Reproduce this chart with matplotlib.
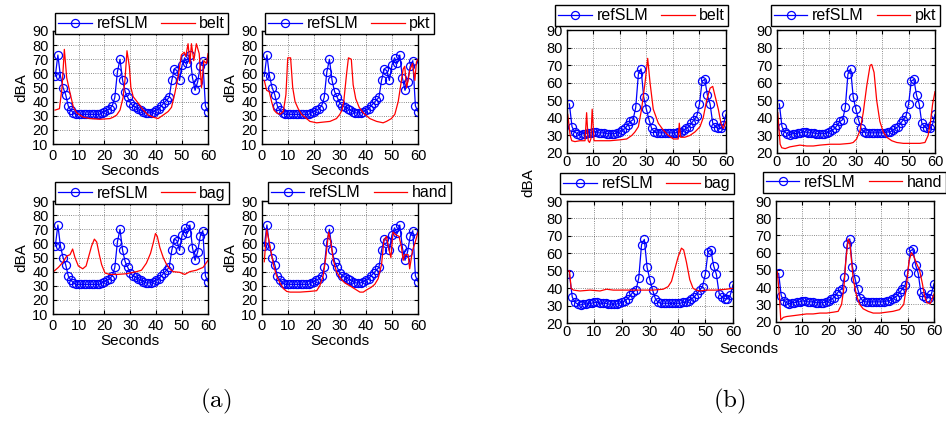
import numpy as np
import matplotlib
matplotlib.use('Agg')
import matplotlib.pyplot as plt

plt.rcParams['font.family'] = ['Liberation Sans', 'DejaVu Sans']
plt.rcParams['mathtext.fontset'] = 'cm'

sec = np.arange(1, 61)

# reference sound level meter, session (a) and (b)
ref_a = [58, 73, 58, 50, 45, 37, 34, 32, 31, 31, 31, 31, 31, 31, 31, 31, 31, 31,
         32, 33, 34, 35, 37, 43, 61, 70, 55, 47, 43, 39, 37, 36, 35, 34, 33, 32,
         32, 32, 33, 34, 35, 37, 39, 41, 43, 55, 63, 62, 55, 66, 71, 67, 73, 57,
         48, 54, 65, 69, 37, 33]
ref_b = [48, 35, 32, 31, 30.5, 31, 31, 31.5, 31.5, 32, 32, 31.5, 31.5, 31.5, 31,
         31, 31, 31, 31.5, 32, 33, 34, 36, 38, 39, 46, 65, 68, 52, 45, 39, 34, 32,
         31.5, 31.5, 31.5, 31.5, 31.5, 31.5, 31.5, 31.5, 32, 32, 33, 34, 35, 37,
         39, 41, 48, 61, 62, 53, 48, 37, 35, 34, 34, 36, 42]

# phone positions (a)
belt_a_t = [0.9, 2.6, 3.6, 4.5, 5.4, 6.7, 8.0, 9.3, 11.8, 14.4, 18.3, 22.1, 23.4,
            24.7, 26.0, 27.2, 27.9, 28.7, 29.6, 30.2, 31.1, 33.0, 35.0, 36.9,
            38.8, 40.7, 42.7, 44.6, 45.9, 47.2, 48.5, 49.7, 50.8, 51.4, 52.3,
            53.0, 53.6, 54.5, 55.5, 56.6, 57.5, 58.4, 59.4, 60.0]
belt_a = [34, 35, 50, 77, 57, 46, 36, 32, 29, 28, 27.5, 28, 29, 30.5, 34, 43, 55,
          76, 65, 50, 43.5, 39, 34, 30.5, 29, 28, 30.5, 33, 36, 46, 58, 73, 75,
          72, 81, 67, 81, 69, 81, 74, 50, 69, 67, 74]

pkt_a_t = [1.0, 1.9, 2.9, 3.8, 4.7, 5.7, 7.0, 8.3, 9.3, 10.0, 11.1, 11.9, 12.8,
           14.0, 15.3, 16.6, 18.5, 21.1, 23.6, 26.2, 28.7, 30.0, 30.8, 31.5,
           32.6, 33.3, 34.4, 35.1, 36.1, 37.4, 39.0, 41.5, 44.1, 46.6, 47.9,
           49.8, 51.1, 52.4, 53.4, 54.3, 54.9, 55.6, 56.2, 56.8, 57.9, 58.8,
           59.4, 60.0]
pkt_a = [55, 48, 47, 40, 34, 32, 31, 33, 45, 71, 71, 50, 40, 35, 31, 29, 26, 25,
         25.5, 26, 28, 31, 34, 40, 60, 71, 70, 52, 42, 36, 32, 28, 26, 25, 26,
         28, 31, 40, 52, 63, 65, 50, 55, 62, 67, 55, 68, 70]

bag_a_t = [0.3, 2.2, 4.1, 5.4, 6.7, 7.7, 8.6, 9.9, 11.6, 12.9, 13.8, 15.0, 16.1,
           17.0, 18.0, 18.9, 20.2, 22.1, 24.7, 28.5, 32.4, 34.3, 36.2, 37.8,
           38.8, 39.7, 40.4, 41.4, 42.7, 44.0, 45.2, 46.5, 49.1, 51.0, 53.0,
           55.5, 58.1, 60.0]
bag_a = [40, 43, 47, 51, 52, 56, 50, 44, 42, 44, 50, 58, 63, 61, 52, 45, 39, 38,
         38, 38.5, 40, 41, 46, 53, 60, 67, 65, 57, 50, 45, 42, 40, 39.5, 38, 40,
         41, 43, 48]

hand_a_t = [1.0, 1.9, 3.2, 4.5, 5.7, 7.0, 8.3, 9.6, 10.9, 14.7, 18.5, 21.1, 22.3,
            23.6, 24.6, 25.7, 26.6, 27.5, 28.7, 30.3, 31.9, 33.8, 36.4, 37.7,
            39.0, 40.2, 42.1, 43.4, 44.7, 46.0, 46.9, 47.9, 48.9, 49.6, 50.4,
            51.5, 52.7, 53.6, 54.3, 54.9, 56.2, 56.8, 57.9, 58.8, 60.0]
hand_a = [47, 70, 58, 45, 37, 32, 28, 26, 25.5, 25.5, 26, 26.5, 30, 37, 50, 68,
          60, 48, 40, 35, 32, 30, 27, 25.5, 25.5, 27, 29, 31, 35, 45, 62, 65, 55,
          50, 68, 66, 65, 58, 48, 52, 52, 42, 55, 60, 68]

# phone positions (b)
belt_b_t = [0.4, 1.3, 1.9, 3.1, 5.0, 6.9, 7.5, 8.1, 8.6, 9.1, 9.6, 10.3, 12.5,
            16.3, 20.0, 22.6, 24.5, 25.7, 27.0, 28.2, 29.5, 30.5, 31.4, 32.6,
            34.5, 36.4, 38.3, 40.2, 42.0, 42.4, 42.9, 44.5, 46.4, 48.3, 50.2,
            51.4, 52.7, 54.0, 55.0, 55.8, 57.1, 58.1, 59.0, 60.0]
belt_b = [42, 30, 27, 26.5, 27, 27, 43, 27, 26, 28, 45, 27, 27, 27, 27.5, 28, 30,
          32, 35, 45, 60, 74, 60, 45, 37, 33, 30, 28, 28, 37, 29, 29, 30, 32, 35,
          40, 50, 57, 58, 53, 45, 37, 34, 38]

pkt_b_t = [0.4, 1.3, 1.9, 3.2, 5.0, 8.8, 11.4, 13.9, 16.4, 20.2, 24.0, 27.8, 29.0,
           30.3, 31.6, 32.8, 34.1, 35.4, 36.0, 36.9, 37.9, 39.1, 40.4, 41.7,
           43.6, 45.5, 48.0, 51.8, 54.3, 56.2, 57.4, 58.3, 59.1, 60.0]
pkt_b = [43, 25, 23, 22.5, 23.5, 24.5, 24, 24, 24.5, 25, 25, 25.5, 26, 28, 33, 43,
         58, 70, 70.5, 66, 50, 38, 32, 29, 27, 26, 25.5, 25.5, 25.5, 26, 30, 38,
         48, 55]

bag_b_t = [0.0, 1.0, 1.6, 2.4, 4.8, 8.4, 12.0, 14.4, 16.8, 20.4, 24.0, 27.6, 31.2,
           34.8, 36.6, 37.8, 39.0, 40.2, 41.4, 42.2, 43.2, 44.4, 45.6, 46.8,
           48.0, 50.4, 54.0, 57.6, 60.0]
bag_b = [50, 50, 40, 39, 38.5, 39, 38.5, 39.5, 39, 39, 39, 39, 39, 39.5, 41, 44,
         51, 58, 63, 62, 55, 45, 40, 39, 38.5, 39, 39, 39.5, 40]

hand_b_t = [0.5, 1.3, 1.8, 2.8, 4.0, 6.6, 9.1, 11.6, 14.1, 16.7, 19.2, 21.7, 23.6,
            24.9, 25.8, 26.5, 27.4, 28.0, 28.7, 29.3, 30.6, 31.8, 33.1, 35.0,
            36.9, 39.4, 41.9, 44.4, 46.9, 48.5, 49.5, 50.5, 51.4, 52.3, 53.3,
            54.5, 55.6, 56.4, 57.3, 58.6, 60.0]
hand_b = [49, 35, 21, 22.5, 23, 23.5, 24, 24.5, 24.5, 25, 25, 25.5, 26, 30, 40,
          55, 68, 66, 55, 45, 35, 30, 27.5, 26, 25, 25, 25.5, 26, 27, 30, 40, 55,
          60, 58, 54, 50, 42, 35, 31, 30.5, 36]

W, H = 946, 422
fig = plt.figure(figsize=(W / 100, H / 100), dpi=100)


def px_box(x0, y0, x1, y1):
    return [x0 / W, 1 - y1 / H, (x1 - x0) / W, (y1 - y0) / H]


def panel(box, ref, t, db, name, ymin, leg_xy, labels=True, xpad=3.5):
    ax = fig.add_axes(px_box(*box))
    l1, = ax.plot(sec, ref, '-o', color='b', lw=0.9, ms=5.8, mfc='none', mew=0.9)
    l2, = ax.plot(t, db, '-', color='r', lw=0.9)
    ax.set_xlim(0, 60)
    ax.set_ylim(ymin, 90)
    ax.set_xticks(range(0, 61, 10))
    ax.set_yticks(range(ymin, 91, 10))
    ax.tick_params(direction='in', length=3, labelsize=10.5, top=True, right=True)
    ax.tick_params(axis='x', pad=xpad)
    ax.tick_params(axis='y', pad=3)
    ax.grid(True, ls=':', color='k', lw=0.6, alpha=0.6)
    for s in ax.spines.values():
        s.set_linewidth(1.0)
    if labels:
        ax.set_xlabel('Seconds', fontsize=11, labelpad=1)
        ax.set_ylabel('dBA', fontsize=11, labelpad=3)
    leg = ax.legend([l1, l2], ['refSLM', name], ncol=2, loc='upper left',
                    bbox_to_anchor=(leg_xy[0] / W, 1 - leg_xy[1] / H),
                    bbox_transform=fig.transFigure, borderaxespad=0,
                    fontsize=11.5, frameon=True, fancybox=False, framealpha=1,
                    edgecolor='k', borderpad=0.2, handlelength=2.1,
                    handletextpad=0.3, columnspacing=0.8)
    leg.get_frame().set_linewidth(1.0)
    return ax


# (a)
panel((52.7, 31, 208, 144), ref_a, belt_a_t, belt_a, 'belt', 10, (55, 13))
panel((261.7, 31, 418, 144), ref_a, pkt_a_t, pkt_a, 'pkt', 10, (265, 13))
panel((52.7, 201, 208, 314), ref_a, bag_a_t, bag_a, 'bag', 10, (55, 182.5))
panel((261.7, 201, 418, 314), ref_a, hand_a_t, hand_a, 'hand', 10, (267.7, 182))

# (b)
panel((566.7, 30.3, 726, 153), ref_b, belt_b_t, belt_b, 'belt', 20, (555, 5), False, 1.5)
panel((776.7, 30.3, 935, 153), ref_b, pkt_b_t, pkt_b, 'pkt', 20, (770.7, 5), False, 1.5)
panel((566.7, 201, 733, 323.3), ref_b, bag_b_t, bag_b, 'bag', 20, (560, 173), False, 1.5)
panel((776, 201, 934, 321.7), ref_b, hand_b_t, hand_b, 'hand', 20, (762.7, 171.7), False, 1.5)

fig.text(528.3 / W, 1 - 182.5 / H, 'dBA', fontsize=11, rotation=90, ha='center', va='center')
fig.text(749 / W, 1 - 349 / H, 'Seconds', fontsize=11, ha='center', va='center')

fig.text(216 / W, 1 - 401 / H, r'$\mathrm{(a)}$', fontsize=18, ha='center', va='center')
fig.text(729 / W, 1 - 401 / H, r'$\mathrm{(b)}$', fontsize=18, ha='center', va='center')

fig.savefig('out.png', dpi=100)
